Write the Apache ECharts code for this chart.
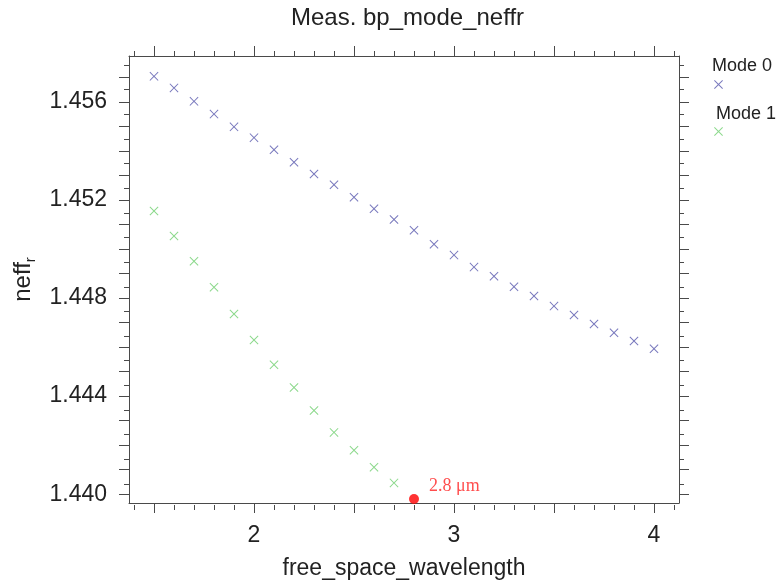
<!doctype html>
<html lang="en">
 <head>
  <meta charset="UTF-8">
  <style type="text/css">
  html,body{margin:0;padding:0;background:#fff;}
  #ecm1{width:777px;height:585px;}
  </style>
  <script src="https://cdn.jsdelivr.net/npm/echarts/dist/echarts.min.js"></script>
  <title>Meas. bp_mode_neffr</title>
 </head>
 <body>
    <div id="ecm1"></div>
    <script type="text/javascript">
    // x: free space wavelength (um)
    var wavelength = [1.5, 1.6, 1.7, 1.8, 1.9, 2.0, 2.1, 2.2, 2.3, 2.4, 2.5, 2.6, 2.7,
                      2.8, 2.9, 3.0, 3.1, 3.2, 3.3, 3.4, 3.5, 3.6, 3.7, 3.8, 3.9, 4.0];
    // neff_r of mode 0 (all wavelengths)
    var mode0Neff = [1.45704, 1.45657, 1.45602, 1.45550, 1.45498, 1.45454, 1.45405, 1.45354, 1.45306,
                     1.45262, 1.45211, 1.45164, 1.45120, 1.45076, 1.45019, 1.44975, 1.44926, 1.44889,
                     1.44846, 1.44808, 1.44767, 1.44731, 1.44694, 1.44658, 1.44625, 1.44593];
    // neff_r of mode 1 (1.5 .. 2.7 only)
    var mode1Neff = [1.45155, 1.45053, 1.44950, 1.44844, 1.44735, 1.44629, 1.44528, 1.44435,
                     1.44341, 1.44252, 1.44179, 1.44110, 1.44046];
    // marked cut-off point
    var cutoffPoint = [2.8, 1.4398];
    var cutoffLabel = '2.8 μm';
    // tick labels
    var xLabelValues = [2, 3, 4];
    var yLabelValues = [1.440, 1.444, 1.448, 1.452, 1.456];

    var xMin = 1.375, xMax = 4.125;
    var yMin = 1.43964, yMax = 1.45787;

    function steps(from, to, step, dec){
        var out = [];
        for (var v = from; v <= to + step / 10; v += step) {
            out.push(+v.toFixed(dec));
        }
        return out;
    }
    var xLongTicks = steps(1.5, 4.0, 0.5, 2);
    var xShortTicks = steps(1.4, 4.1, 0.1, 2);
    var yLongTicks = steps(1.440, 1.457, 0.001, 4);
    var yShortTicks = steps(1.4405, 1.4575, 0.001, 4);

    var mode0Data = wavelength.map(function(x, i){ return [x, mode0Neff[i]]; });
    var mode1Data = mode1Neff.map(function(y, i){ return [wavelength[i], y]; });

    var crossIcon = 'path://M0,0.8L0.8,0L5,4.2L9.2,0L10,0.8L5.8,5L10,9.2L9.2,10L5,5.8L0.8,10L0,9.2L4.2,5Z';
    var font = "'Liberation Sans', Arial, sans-serif";
    var lineColor = '#4a4a4a';

    function xAxisOf(grid, pos, ticks, len, labels){
        return {
            type: 'value', gridIndex: grid, position: pos, min: xMin, max: xMax,
            axisLine: { show: grid === 0, lineStyle: { color: lineColor, width: 1 } },
            axisTick: { show: true, length: len, customValues: ticks, lineStyle: { color: lineColor } },
            axisLabel: labels ? {
                show: true, customValues: labels, margin: 21,
                color: '#222', fontFamily: font, fontSize: 23
            } : { show: false },
            splitLine: { show: false }
        };
    }
    function yAxisOf(grid, pos, ticks, len, labels){
        return {
            type: 'value', gridIndex: grid, position: pos, min: yMin, max: yMax,
            axisLine: { show: grid === 0, lineStyle: { color: lineColor, width: 1 } },
            axisTick: { show: true, length: len, customValues: ticks, lineStyle: { color: lineColor } },
            axisLabel: labels ? {
                show: true, customValues: labels, margin: 22,
                color: '#222', fontFamily: font, fontSize: 23,
                formatter: function(v){ return v.toFixed(3); }
            } : { show: false },
            splitLine: { show: false }
        };
    }

    var xa0 = xAxisOf(0, 'bottom', xLongTicks, 10, xLabelValues);
    xa0.name = 'free_space_wavelength';
    xa0.nameLocation = 'middle';
    xa0.nameGap = 54;
    xa0.nameTextStyle = { color: '#222', fontFamily: font, fontSize: 23 };

    var ya0 = yAxisOf(0, 'left', yLongTicks, 10, yLabelValues);
    ya0.name = '{a|neff}{s|r}';
    ya0.nameLocation = 'middle';
    ya0.nameGap = 88;
    ya0.nameTextStyle = {
        rich: {
            a: { color: '#222', fontFamily: font, fontSize: 24, lineHeight: 30 },
            s: { color: '#222', fontFamily: font, fontSize: 15, verticalAlign: 'bottom', lineHeight: 30 }
        }
    };

    var myChart = echarts.init(document.getElementById('ecm1'), null, { renderer: 'canvas' });
    var option1 = {
        backgroundColor: '#fff',
        animation: false,
        title: {
            text: 'Meas. bp_mode_neffr',
            left: 286, top: 1,
            textStyle: { color: '#222', fontFamily: font, fontSize: 24, fontWeight: 'normal' }
        },
        legend: [{
            data: ['Mode 0'],
            orient: 'vertical', left: 702, top: 52,
            itemWidth: 0, itemHeight: 0,
            icon: 'rect',
            textStyle: { color: '#222', fontFamily: font, fontSize: 18 }
        }, {
            data: ['Mode 1'],
            orient: 'vertical', left: 706, top: 100,
            itemWidth: 0, itemHeight: 0,
            icon: 'rect',
            textStyle: { color: '#222', fontFamily: font, fontSize: 18 }
        }, {
            data: ['Mode 0', 'Mode 1'],
            orient: 'vertical', left: 709, top: 75,
            itemWidth: 9, itemHeight: 9, itemGap: 38,
            icon: crossIcon,
            formatter: function(){ return ''; }
        }],
        grid: [
            { left: 129, right: 98, top: 56, bottom: 80 },
            { left: 129, right: 98, top: 56, bottom: 80 }
        ],
        xAxis: [
            xa0,
            xAxisOf(0, 'top', xLongTicks, 10, null),
            xAxisOf(1, 'bottom', xShortTicks, 5, null),
            xAxisOf(1, 'top', xShortTicks, 5, null)
        ],
        yAxis: [
            ya0,
            yAxisOf(0, 'right', yLongTicks, 10, null),
            yAxisOf(1, 'left', yShortTicks, 5, null),
            yAxisOf(1, 'right', yShortTicks, 5, null)
        ],
        series: [{
            name: 'Mode 0', type: 'scatter', xAxisIndex: 0, yAxisIndex: 0,
            symbol: crossIcon, symbolSize: 9,
            itemStyle: { color: '#5757ad' },
            data: mode0Data
        }, {
            name: 'Mode 1', type: 'scatter', xAxisIndex: 0, yAxisIndex: 0,
            symbol: crossIcon, symbolSize: 9,
            itemStyle: { color: '#6fd06f' },
            data: mode1Data
        }, {
            name: 'cutoff', type: 'scatter', xAxisIndex: 0, yAxisIndex: 0,
            symbol: 'circle', symbolSize: 10, clip: false,
            itemStyle: { color: '#ff0000' },
            label: {
                show: true, position: 'right', distance: 10, offset: [0, -13],
                formatter: cutoffLabel,
                color: '#ff2020', fontFamily: "'Liberation Serif', 'Times New Roman', serif", fontSize: 18
            },
            data: [cutoffPoint]
        }]
    };
    myChart.setOption(option1);
    </script>
 </body>
</html>
